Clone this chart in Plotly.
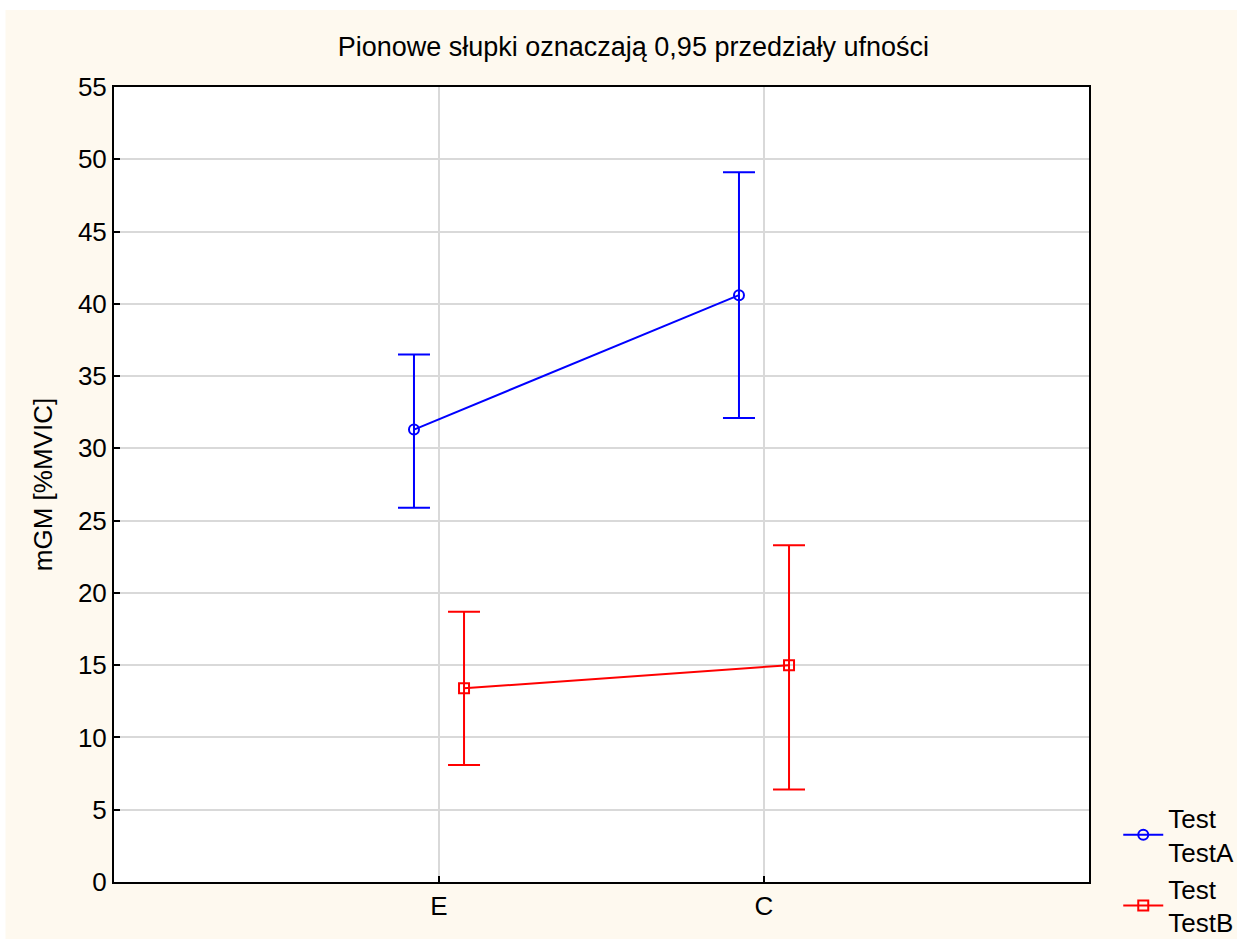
import plotly.graph_objects as go

categories = ["E", "C"]
cat_pos = [0, 1]
offset = 0.077

testA_mean = [31.3, 40.6]
testA_upper = [36.5, 49.1]
testA_lower = [25.9, 32.1]

testB_mean = [13.4, 15.0]
testB_upper = [18.7, 23.3]
testB_lower = [8.1, 6.4]

y_ticks = list(range(0, 56, 5))

FONT = "Liberation Sans, Arial, sans-serif"
CREAM = "#FEF9EF"
FS = 26

def trace(mean, up, lo, shift, color, symbol, name):
    return go.Scatter(
        x=[p + shift for p in cat_pos],
        y=mean,
        mode="lines+markers",
        name=name,
        line=dict(color=color, width=2),
        marker=dict(symbol=symbol, size=10, color=color, line=dict(color=color, width=2)),
        error_y=dict(
            type="data", symmetric=False,
            array=[u - m for u, m in zip(up, mean)],
            arrayminus=[m - l for m, l in zip(mean, lo)],
            color=color, thickness=2, width=16,
        ),
    )

fig = go.Figure()
fig.add_trace(trace(testA_mean, testA_upper, testA_lower, -offset, "#0000FF", "circle-open", "Test<br>TestA"))
fig.add_trace(trace(testB_mean, testB_upper, testB_lower, offset, "#FF0000", "square-open", "Test<br>TestB"))

fig.update_layout(
    width=1237, height=939,
    margin=dict(l=114, r=148, t=87, b=57, autoexpand=False),
    paper_bgcolor=CREAM,
    plot_bgcolor="white",
    font=dict(family=FONT, size=FS, color="black"),
    title=dict(text="Pionowe słupki oznaczają 0,95 przedziały ufności",
               x=0.512, xanchor="center", y=0.95, yanchor="middle",
               font=dict(size=27)),
    showlegend=True,
    legend=dict(x=1.03, xanchor="left", y=0.11, yanchor="top",
                bgcolor="rgba(0,0,0,0)", font=dict(size=FS),
                tracegroupgap=2, itemwidth=40),
    shapes=[
        dict(type="rect", xref="paper", yref="paper", x0=-0.2, x1=1.3,
             y0=1.097, y1=1.12, fillcolor="white", line=dict(width=0), layer="below"),
        dict(type="rect", xref="paper", yref="paper", x0=-0.2, x1=-0.1113,
             y0=-0.1, y1=1.12, fillcolor="white", line=dict(width=0), layer="below"),
    ],
)

fig.update_xaxes(
    range=[-1, 2], tickmode="array", tickvals=cat_pos, ticktext=categories,
    showgrid=True, gridcolor="#D9D9D9", gridwidth=2,
    showline=True, linecolor="black", linewidth=2, mirror=True,
    ticks="inside", ticklen=6, tickcolor="black", tickwidth=2,
    zeroline=False, tickfont=dict(size=FS),
)
fig.update_yaxes(
    range=[0, 55], tickmode="array", tickvals=y_ticks,
    showgrid=True, gridcolor="#D9D9D9", gridwidth=2,
    showline=True, linecolor="black", linewidth=2, mirror=True,
    ticks="inside", ticklen=6, tickcolor="black", tickwidth=2,
    zeroline=False, tickfont=dict(size=FS),
    title=dict(text="mGM [%MVIC]", font=dict(size=FS), standoff=18),
)

fig.write_html("out.html")
